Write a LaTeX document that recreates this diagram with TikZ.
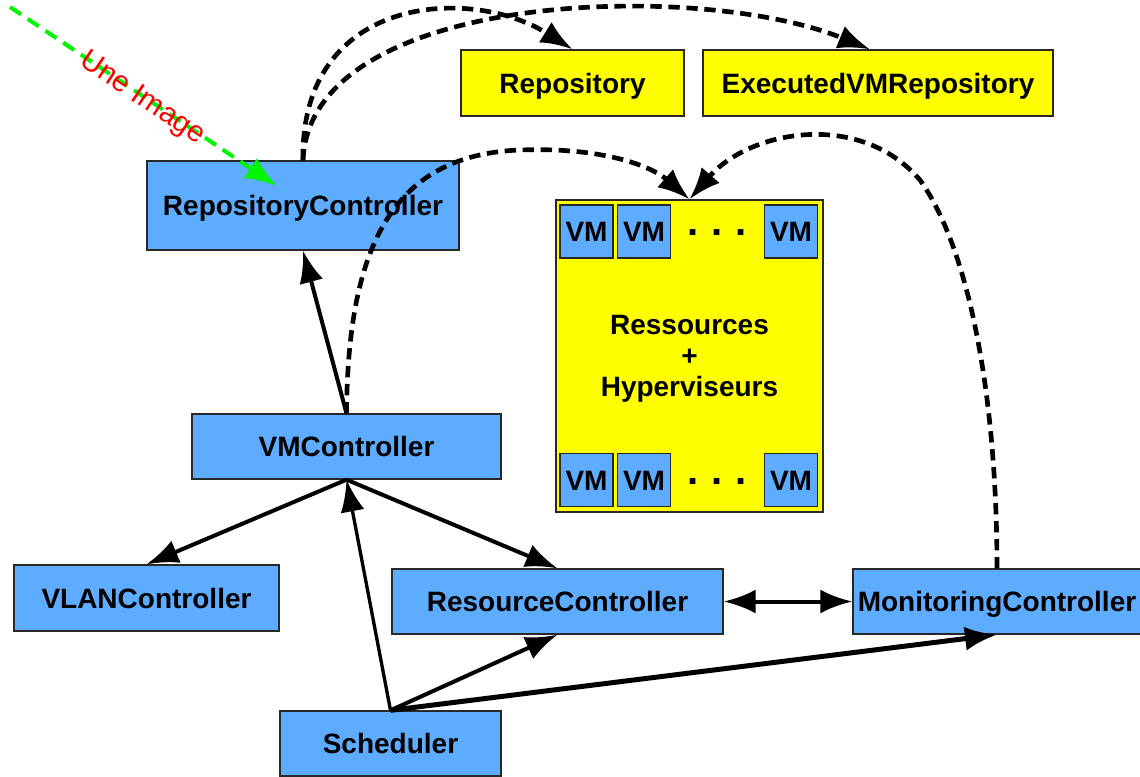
\documentclass[tikz,border=0pt]{standalone}
\usepackage{fontspec}
\setmainfont{Liberation Sans}
\usetikzlibrary{arrows.meta,calc}
\definecolor{boxblue}{RGB}{94,172,255}
\definecolor{boxyellow}{RGB}{255,255,0}
\definecolor{edgegray}{RGB}{40,40,40}
\definecolor{imggreen}{RGB}{0,245,0}
\begin{document}
\begin{tikzpicture}[x=0.75pt,y=-0.75pt,
 box/.style={draw=edgegray,line width=1pt,inner sep=0pt,font=\bfseries\fontsize{21}{23.25}\selectfont,align=center,text height=15pt,text depth=0pt},
 bluebox/.style={box,fill=boxblue},
 yellowbox/.style={box,fill=boxyellow},
 vmbox/.style={bluebox,minimum width=39.75pt,minimum height=39.75pt},
 solidarrow/.style={line width=3pt,-{Latex[length=24pt,width=18pt]}},
 dashedarrow/.style={line width=3.5pt,dash pattern=on 8.5pt off 5pt,-{Latex[length=24pt,width=18pt]}},
 dotsfont/.style={font=\bfseries\fontsize{30}{30}\selectfont},
]
\useasboundingbox (0,0) rectangle (1140,776);
\clip (0,0) rectangle (1140,776);

% nodes
\node[bluebox,minimum width=234pt,minimum height=66.75pt] (rc) at (303,205.5) {RepositoryController};
\node[yellowbox,minimum width=167.25pt,minimum height=49.5pt] (repo) at (572.5,83) {Repository};
\node[yellowbox,minimum width=262.5pt,minimum height=49.5pt] (exec) at (878,83) {ExecutedVMRepository};
\node[yellowbox,minimum width=200.25pt,minimum height=234pt] (res) at (689.5,356) {};
\node[font=\bfseries\fontsize{21}{23.25}\selectfont,align=center] (restext) at (689.5,359) {Ressources\\+\\Hyperviseurs};
\node[vmbox] (vm1) at (586.5,231.5) {VM};
\node[vmbox] (vm2) at (644,231.5) {VM};
\node[dotsfont,inner sep=0pt] (dots1) at (717,233) {.\hspace{10pt}.\hspace{10pt}.};
\node[vmbox] (vm3) at (791,231.5) {VM};
\node[vmbox] (vm4) at (586.5,480) {VM};
\node[vmbox] (vm5) at (644,480) {VM};
\node[dotsfont,inner sep=0pt] (dots2) at (717,482) {.\hspace{10pt}.\hspace{10pt}.};
\node[vmbox] (vm6) at (791,480) {VM};
\node[bluebox,minimum width=231.75pt,minimum height=48.75pt] (vmc) at (346.5,446.5) {VMController};
\node[bluebox,minimum width=198.75pt,minimum height=49.5pt] (vlan) at (146.5,598) {VLANController};
\node[bluebox,minimum width=248.25pt,minimum height=48.75pt] (rsc) at (557.5,601.5) {ResourceController};
\node[bluebox,minimum width=216pt,minimum height=48.75pt] (mon) at (997,601.5) {MonitoringController};
\node[bluebox,minimum width=165.75pt,minimum height=48.75pt] (sch) at (390.5,743.5) {Scheduler};

% solid connectors
\draw[solidarrow] (vmc.north) -- (rc.south);
\draw[solidarrow] (vmc.south) -- (vlan.north);
\draw[solidarrow] (vmc.south) -- (rsc.north);
\draw[solidarrow,line width=2.5pt] (sch.north) -- (vmc.south);
\draw[solidarrow] (sch.north) -- (rsc.south);
\draw[solidarrow,line width=3.75pt] (sch.north) -- (mon.south);
\draw[line width=3pt,{Latex[length=24pt,width=18pt]}-{Latex[length=24pt,width=18pt]}] (rsc.east) -- (mon.west);

% dashed connectors
\draw[dashedarrow] (rc.north) .. controls (300,-5) and (470,-15) .. (repo.north);
\draw[dashedarrow] (rc.north) .. controls (310,-10) and (700,-20) .. ([xshift=-6pt]exec.north);
\draw[dashedarrow] (vmc.north) .. controls (348,250) and (390,155) .. (520,150) .. controls (600,147) and (650,165) .. (res.north);
\draw[dashedarrow] (mon.north) .. controls (997,400) and (970,250) .. (920,180) .. controls (860,110) and (750,130) .. (res.north);

% incoming image
\coordinate (imgsrc) at (10,7);
\coordinate (imgtip) at (277,186);
\draw[imggreen,line width=3pt,dash pattern=on 10pt off 6pt,-{Latex[length=24pt,width=18pt]}] (imgsrc) -- (imgtip)
  node[pos=0.5,sloped,yshift=-2pt,text=red,font=\fontsize{22}{24}\selectfont] (imglabel) {Une Image};
\end{tikzpicture}
\end{document}
